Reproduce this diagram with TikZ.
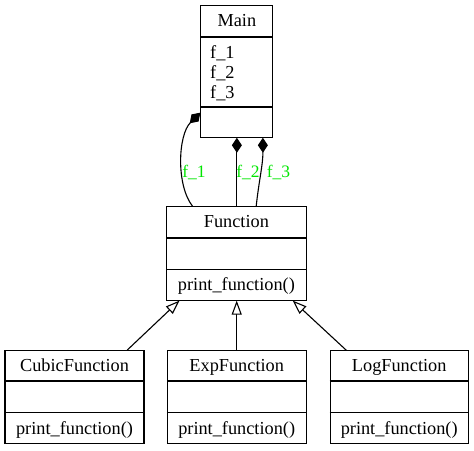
\documentclass[tikz,border=0pt]{standalone}
\usepackage{fontspec}
\setmainfont{Liberation Serif}
\usetikzlibrary{arrows.meta,calc}
\definecolor{lblgreen}{RGB}{0,230,0}
\tikzset{
  box/.style={draw, line width=1.1pt, inner sep=0pt, anchor=center},
  txt/.style={inner sep=0pt, anchor=base, font=\fontsize{18.3}{20}\selectfont},
  attr/.style={inner sep=0pt, anchor=base west, font=\fontsize{18.3}{20}\selectfont},
  lbl/.style={inner sep=0pt, anchor=center, text=lblgreen, font=\fontsize{17.5}{20}\selectfont},
  conn/.style={line width=1.1pt},
  comp/.style={conn, -{Diamond[fill=black, length=15pt, width=10pt]}},
  inh/.style={conn, -{Triangle[open, fill=white, length=14pt, width=10pt]}}
}
\begin{document}
\begin{tikzpicture}[x=1pt,y=-1pt]
\useasboundingbox (0,0) rectangle (474,450);
% Main
\node[box, minimum width=72pt, minimum height=132pt] (main) at (236.9,71.2) {};
\draw[conn] (main.west |- {0,37}) -- (main.east |- {0,37});
\draw[conn] (main.west |- {0,107}) -- (main.east |- {0,107});
\node[txt] (mainT) at (236.9,26) {Main};
\node[attr] (mainA1) at (210,58) {f\_1};
\node[attr] (mainA2) at (210,78) {f\_2};
\node[attr] (mainA3) at (210,98) {f\_3};
% Function
\node[box, minimum width=139.3pt, minimum height=93.3pt] (fun) at (236.4,253.4) {};
\draw[conn] (fun.west |- {0,238}) -- (fun.east |- {0,238});
\draw[conn] (fun.west |- {0,269.3}) -- (fun.east |- {0,269.3});
\node[txt] (funT) at (236.4,227.3) {Function};
\node[txt] (funM) at (236.4,290.5) {print\_function()};
% Cubic
\node[box, minimum width=139pt, minimum height=92.6pt] (cub) at (74.5,397) {};
\draw[conn] (cub.west |- {0,381}) -- (cub.east |- {0,381});
\draw[conn] (cub.west |- {0,412.7}) -- (cub.east |- {0,412.7});
\node[txt] (cubT) at (74.5,371.3) {CubicFunction};
\node[txt] (cubM) at (74.5,434) {print\_function()};
% Exp
\node[box, minimum width=138.7pt, minimum height=92.6pt] (exp) at (236.7,397) {};
\draw[conn] (exp.west |- {0,381}) -- (exp.east |- {0,381});
\draw[conn] (exp.west |- {0,412.7}) -- (exp.east |- {0,412.7});
\node[txt] (expT) at (236.7,371.3) {ExpFunction};
\node[txt] (expM) at (236.7,434) {print\_function()};
% Log
\node[box, minimum width=138.3pt, minimum height=92.6pt] (log) at (399.2,397) {};
\draw[conn] (log.west |- {0,381}) -- (log.east |- {0,381});
\draw[conn] (log.west |- {0,412.7}) -- (log.east |- {0,412.7});
\node[txt] (logT) at (399.2,371.3) {LogFunction};
\node[txt] (logM) at (399.2,434) {print\_function()};
% composition edges
\coordinate (f1s) at ($(fun.north west)+(26.3,0)$);
\coordinate (f1e) at ($(main.north west)+(0,108)$);
\draw[comp] (f1s) .. controls (176,185) and (178,135) .. (f1e);
\coordinate (f2s) at (fun.north -| main.south);
\draw[comp] (f2s) -- (main.south);
\coordinate (f3s) at ($(fun.north west)+(90,0)$);
\coordinate (f3e) at ($(main.south west)+(62.5,0)$);
\draw[comp] (f3s) .. controls (259,180) and (263,165) .. (f3e);
\node[lbl] (l1) at (194,172) {f\_1};
\node[lbl] (l2) at (248,172) {f\_2};
\node[lbl] (l3) at (278.5,172) {f\_3};
% inheritance edges
\coordinate (cubs) at ($(cub.north west)+(122.7,0)$);
\coordinate (cube) at ($(fun.south west)+(13.3,0)$);
\draw[inh] (cubs) -- (cube);
\draw[inh] (exp.north) -- (exp.north |- fun.south);
\coordinate (logs) at ($(log.north west)+(16.7,0)$);
\coordinate (loge) at ($(fun.south west)+(126.5,0)$);
\draw[inh] (logs) -- (loge);
\end{tikzpicture}
\end{document}
